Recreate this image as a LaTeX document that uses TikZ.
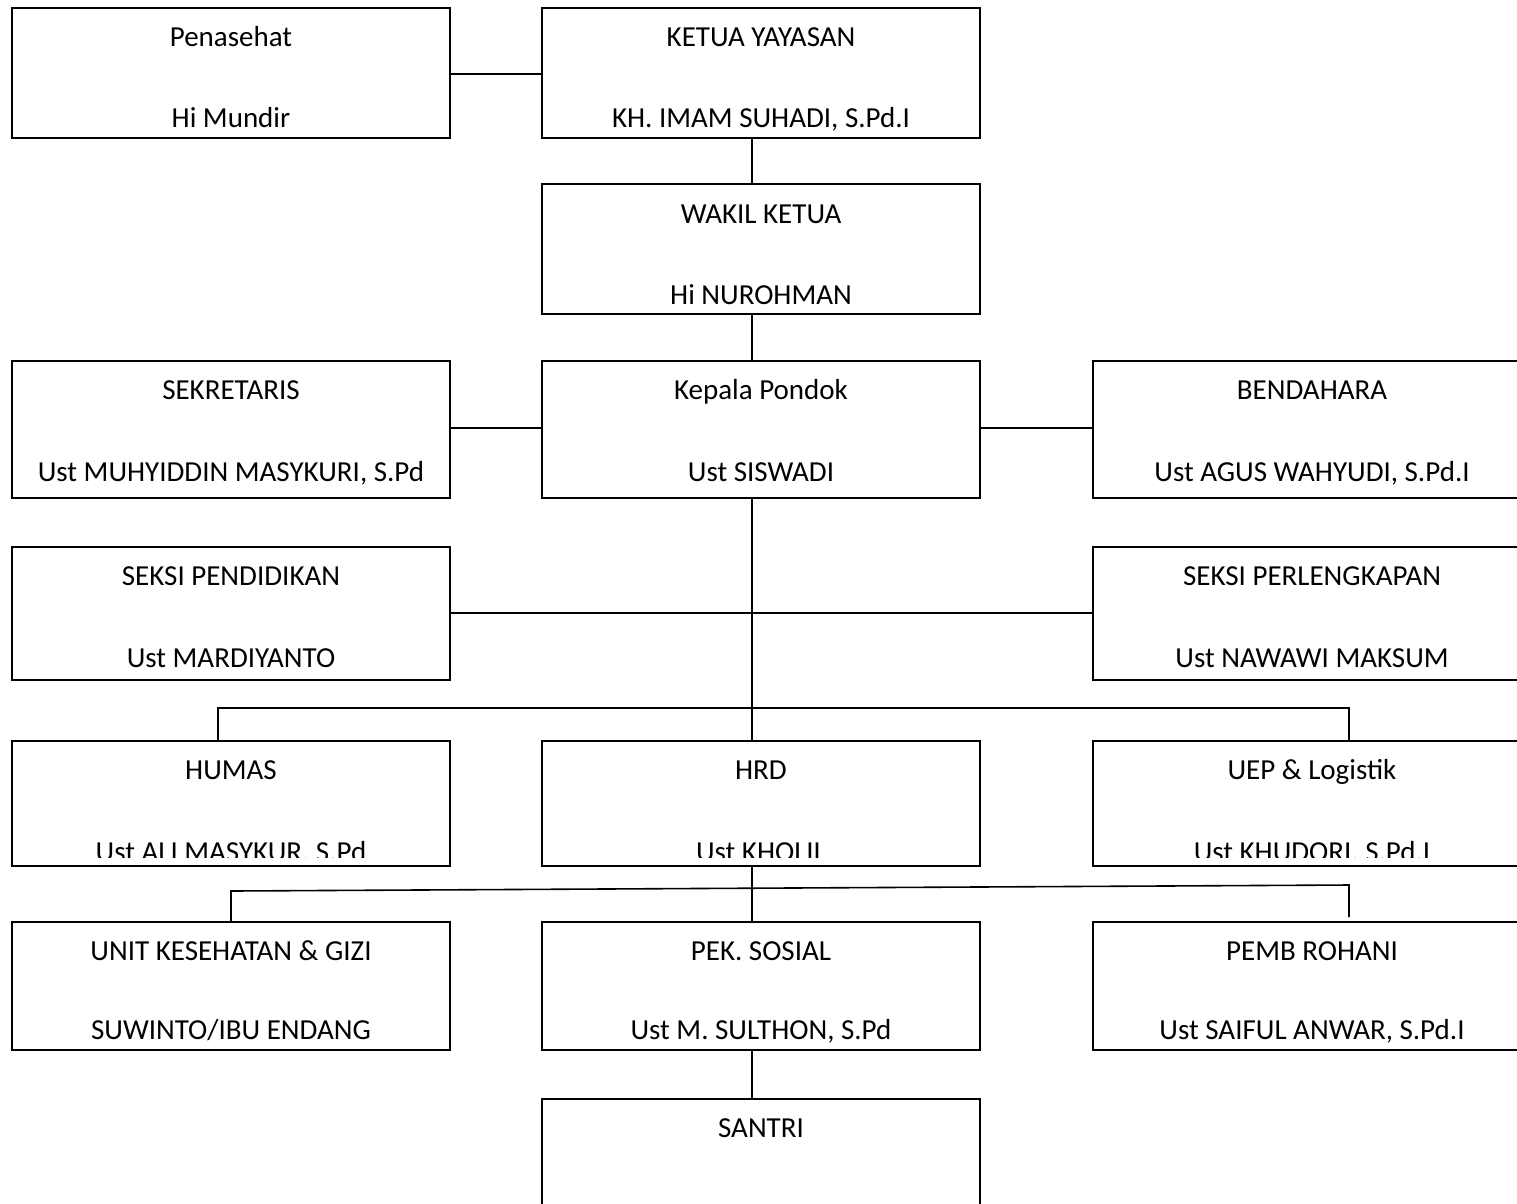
\documentclass[tikz,border=0pt]{standalone}
\usepackage{fontspec}
\setmainfont{Carlito}
\begin{document}
\begin{tikzpicture}[x=1pt,y=-1pt,
  orgbox/.style={draw=black,line width=1.6pt},
  conn/.style={draw=black,line width=1.6pt},
  txt/.style={inner sep=0pt,anchor=base,font=\fontsize{29}{34}\selectfont}]
\useasboundingbox (0,0) rectangle (1517,1203);
\clip (0,0) rectangle (1517,1203);
\fill[white] (0,0) rectangle (1517,1203);
% boxes
\path[orgbox] (12,8) rectangle (450,138);
\coordinate (penasehatE) at (450,74);
\path[orgbox] (542,8) rectangle (980,138);
\coordinate (ketuaW) at (542,74); \coordinate (ketuaS) at (752,138);
\path[orgbox] (542,184) rectangle (980,314);
\coordinate (wakilN) at (752,184); \coordinate (wakilS) at (752,314);
\path[orgbox] (12,361) rectangle (450,498);
\coordinate (sekE) at (450,428);
\path[orgbox] (542,361) rectangle (980,498);
\coordinate (kepN) at (752,361); \coordinate (kepS) at (752,498);
\coordinate (kepW) at (542,428); \coordinate (kepE) at (980,428);
\path[orgbox] (1093,361) rectangle (1531,498);
\coordinate (bendW) at (1093,428);
\path[orgbox] (12,547) rectangle (450,680);
\coordinate (pendE) at (450,613);
\path[orgbox] (1093,547) rectangle (1531,680);
\coordinate (perlW) at (1093,613);
\path[orgbox] (12,741) rectangle (450,866);
\coordinate (humasN) at (218,741);
\path[orgbox] (542,741) rectangle (980,866);
\coordinate (hrdN) at (752,741); \coordinate (hrdS) at (752,866);
\path[orgbox] (1093,741) rectangle (1531,866);
\coordinate (uepN) at (1349,741);
\path[orgbox] (12,922) rectangle (450,1050);
\coordinate (unitN) at (231,922);
\path[orgbox] (542,922) rectangle (980,1050);
\coordinate (pekN) at (752,922); \coordinate (pekS) at (752,1050);
\path[orgbox] (1093,922) rectangle (1531,1050);
\coordinate (pembEnd) at (1349,917);
\path[orgbox] (542,1099) rectangle (980,1240);
\coordinate (santriN) at (752,1099);
% connectors
\path[conn] (penasehatE) -- (ketuaW);
\path[conn] (ketuaS) -- (wakilN);
\path[conn] (wakilS) -- (kepN);
\path[conn] (sekE) -- (kepW);
\path[conn] (kepE) -- (bendW);
\path[conn] (kepS) -- (hrdN);
\path[conn] (pendE) -- (perlW);
\coordinate (busL) at (218,708); \coordinate (busR) at (1349,708);
\path[conn] (humasN) -- (busL) -- (busR) -- (uepN);
\path[conn] (hrdS) -- (pekN);
\coordinate (slL) at (231,891); \coordinate (slR) at (1349,885);
\path[conn] (unitN) -- (slL) -- (slR) -- (pembEnd);
\path[conn] (pekS) -- (santriN);
% texts
\node[txt] (t1a) at (231,46) {Penasehat};
\node[txt] (t1b) at (231,127) {Hi Mundir};
\node[txt] (t2a) at (761,46) {KETUA YAYASAN};
\node[txt] (t2b) at (761,127) {KH. IMAM SUHADI, S.Pd.I};
\node[txt] (t3a) at (761,223) {WAKIL KETUA};
\node[txt] (t3b) at (761,304) {Hi NUROHMAN};
\node[txt] (t4a) at (231,399) {SEKRETARIS};
\node[txt] (t4b) at (231,481) {Ust MUHYIDDIN MASYKURI, S.Pd};
\node[txt] (t5a) at (761,399) {Kepala Pondok};
\node[txt] (t5b) at (761,481) {Ust SISWADI};
\node[txt] (t6a) at (1312,399) {BENDAHARA};
\node[txt] (t6b) at (1312,481) {Ust AGUS WAHYUDI, S.Pd.I};
\node[txt] (t7a) at (231,585) {SEKSI PENDIDIKAN};
\node[txt] (t7b) at (231,667) {Ust MARDIYANTO};
\node[txt] (t8a) at (1312,585) {SEKSI PERLENGKAPAN};
\node[txt] (t8b) at (1312,667) {Ust NAWAWI MAKSUM};
\node[txt] (t9a) at (231,779) {HUMAS};
\node[txt] (t10a) at (761,779) {HRD};
\node[txt] (t11a) at (1312,779) {UEP \& Logistik};
\begin{scope}
\clip (12,741) rectangle (1531,857);
\node[txt] (t9b) at (231,861) {Ust ALI MASYKUR, S.Pd};
\node[txt] (t10b) at (761,861) {Ust KHOLIL};
\node[txt] (t11b) at (1312,861) {Ust KHUDORI, S.Pd.I};
\end{scope}
\node[txt] (t12a) at (231,960) {UNIT KESEHATAN \& GIZI};
\node[txt] (t13a) at (761,960) {PEK. SOSIAL};
\node[txt] (t14a) at (1312,960) {PEMB ROHANI};
\begin{scope}
\clip (12,922) rectangle (1531,1043);
\node[txt] (t12b) at (231,1039) {SUWINTO/IBU ENDANG};
\node[txt] (t13b) at (761,1039) {Ust M. SULTHON, S.Pd};
\node[txt] (t14b) at (1312,1039) {Ust SAIFUL ANWAR, S.Pd.I};
\end{scope}
\node[txt] (t15a) at (761,1137) {SANTRI};
\end{tikzpicture}
\end{document}
